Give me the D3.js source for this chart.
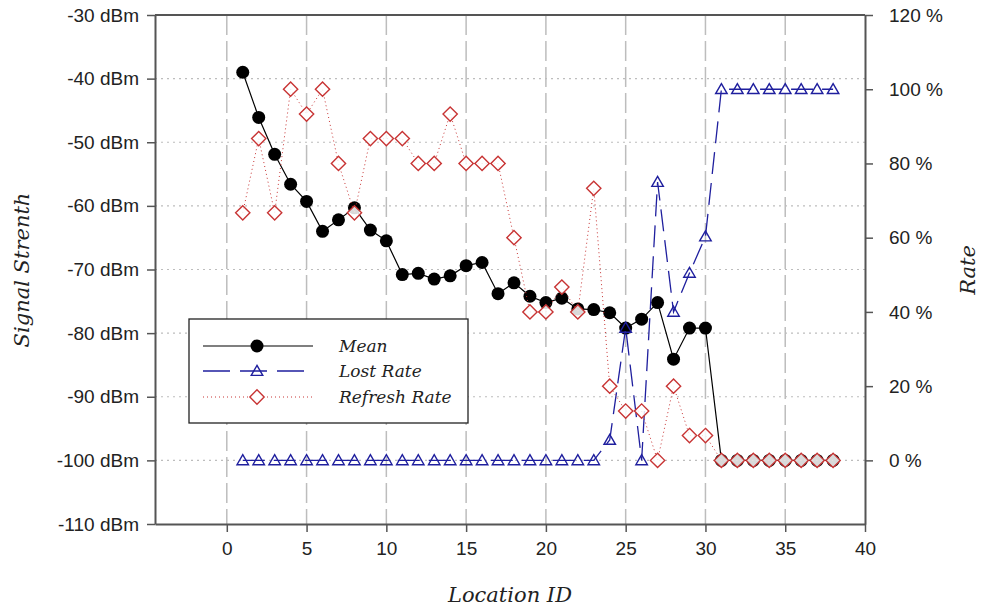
<!DOCTYPE html>
<html>
<head>
<meta charset="utf-8">
<script src="https://cdn.jsdelivr.net/npm/d3@7"></script>
<style>
  body { margin: 0; background: #fff; }
  .tick text { font-family: "Liberation Sans", Arial, sans-serif; font-size: 19px; fill: #222; }
  .ttl { font-family: "DejaVu Serif", serif; font-style: italic; fill: #222; }
</style>
</head>
<body>
<svg width="984" height="611"></svg>
<script>
// location ids
const ids = d3.range(1, 39)

// mean signal strength, dBm
const meanDbm = [-39.0, -46.1, -51.9, -56.6, -59.3, -64.0, -62.2, -60.3, -63.8, -65.5,
  -70.8, -70.6, -71.5, -71.0, -69.4, -68.9, -73.8, -72.1, -74.2, -75.2,
  -74.5, -76.2, -76.3, -76.8, -79.2, -77.8, -75.2, -84.1, -79.2, -79.2,
  -100, -100, -100, -100, -100, -100, -100, -100]

// lost rate, %
const lostRate = [0, 0, 0, 0, 0, 0, 0, 0, 0, 0,
  0, 0, 0, 0, 0, 0, 0, 0, 0, 0,
  0, 0, 0, 5.5, 35.7, 0, 75, 40, 50.5, 60.3,
  100, 100, 100, 100, 100, 100, 100, 100]

// refresh rate, %
const refreshRate = [66.7, 86.7, 66.7, 100, 93.3, 100, 80, 66.7, 86.7, 86.7,
  86.7, 80, 80, 93.3, 80, 80, 80, 60, 40, 40,
  46.7, 40, 73.3, 20, 13.3, 13.3, 0, 20, 6.7, 6.7,
  0, 0, 0, 0, 0, 0, 0, 0]

const xTicks = [0, 5, 10, 15, 20, 25, 30, 35, 40]
const yTicks = [-110, -100, -90, -80, -70, -60, -50, -40, -30]
const rateTicks = [0, 20, 40, 60, 80, 100, 120]

const svg = d3.select('svg')
const pLeft = 155, pRight = 865, pTop = 15, pBottom = 524

const x = d3.scaleLinear().domain([-4.5, 40]).range([pLeft, pRight])
const y = d3.scaleLinear().domain([-110, -30]).range([pBottom, pTop])
// 0 % sits on -100 dBm, 120 % on -30 dBm
const y2 = d3.scaleLinear().domain([-120 / 7, 120]).range([pBottom, pTop])

const blue = '#1f1f9e', red = '#c83434', grid = '#bdbdbd'

// grid
svg.append('g').selectAll('line')
  .data(xTicks.filter(d => d < 40))
  .enter().append('line')
  .attr('x1', d => x(d)).attr('x2', d => x(d))
  .attr('y1', pTop).attr('y2', pBottom)
  .attr('stroke', grid).attr('stroke-width', 1.5)
  .attr('stroke-dasharray', '20,6')

svg.append('g').selectAll('line')
  .data(yTicks.filter(d => d > -110 && d < -30))
  .enter().append('line')
  .attr('x1', pLeft).attr('x2', pRight)
  .attr('y1', d => y(d)).attr('y2', d => y(d))
  .attr('stroke', grid).attr('stroke-width', 1.2)
  .attr('stroke-dasharray', '2,4')

// axes
const styleAxis = g => {
  g.select('.domain').attr('stroke', '#555').attr('stroke-width', 2)
  g.selectAll('.tick line').attr('stroke', '#555').attr('stroke-width', 1.5)
}

svg.append('g')
  .attr('transform', `translate(${pLeft},0)`)
  .call(d3.axisLeft(y).tickValues(yTicks).tickSize(8).tickSizeOuter(0).tickPadding(8)
    .tickFormat(d => d + ' dBm'))
  .call(styleAxis)

svg.append('g')
  .attr('transform', `translate(${pRight},0)`)
  .call(d3.axisRight(y2).tickValues(rateTicks).tickSize(8).tickSizeOuter(0).tickPadding(16)
    .tickFormat(d => d + ' %'))
  .call(styleAxis)

svg.append('g')
  .attr('transform', `translate(0,${pBottom})`)
  .call(d3.axisBottom(x).tickValues(xTicks).tickSize(8).tickSizeOuter(0).tickPadding(10))
  .call(styleAxis)

svg.append('line')
  .attr('x1', pLeft).attr('x2', pRight).attr('y1', pTop).attr('y2', pTop)
  .attr('stroke', '#555').attr('stroke-width', 2)

// axis titles
svg.append('text').attr('class', 'ttl')
  .attr('x', 510).attr('y', 602).attr('text-anchor', 'middle')
  .style('font-size', '21px').text('Location ID')

svg.append('text').attr('class', 'ttl')
  .attr('transform', 'translate(29,270) rotate(-90)').attr('text-anchor', 'middle')
  .style('font-size', '21px').text('Signal Strenth')

svg.append('text').attr('class', 'ttl')
  .attr('transform', 'translate(975,270) rotate(-90)').attr('text-anchor', 'middle')
  .style('font-size', '21px').text('Rate')

// series
const diamond = d3.symbol().type(d3.symbolDiamond2).size(130)
const triangle = d3.symbol().type(d3.symbolTriangle2).size(95)

// mean
svg.append('path')
  .datum(ids)
  .attr('fill', 'none').attr('stroke', '#000').attr('stroke-width', 1.2)
  .attr('d', d3.line().x(d => x(d)).y((d, i) => y(meanDbm[i])))

svg.append('g').selectAll('circle')
  .data(ids)
  .enter().append('circle')
  .attr('cx', d => x(d)).attr('cy', (d, i) => y(meanDbm[i]))
  .attr('r', 6.5).attr('fill', '#000')

// lost rate
svg.append('path')
  .datum(ids)
  .attr('fill', 'none').attr('stroke', blue).attr('stroke-width', 1.3)
  .attr('stroke-dasharray', '22,9')
  .attr('d', d3.line().x(d => x(d)).y((d, i) => y2(lostRate[i])))

svg.append('g').selectAll('path')
  .data(ids)
  .enter().append('path')
  .attr('transform', (d, i) => `translate(${x(d)},${y2(lostRate[i]) + 1})`)
  .attr('d', triangle)
  .attr('fill', 'none').attr('stroke', blue).attr('stroke-width', 1.4)

// refresh rate
svg.append('path')
  .datum(ids)
  .attr('fill', 'none').attr('stroke', red).attr('stroke-width', 1)
  .attr('stroke-dasharray', '1,3')
  .attr('d', d3.line().x(d => x(d)).y((d, i) => y2(refreshRate[i])))

svg.append('g').selectAll('path')
  .data(ids)
  .enter().append('path')
  .attr('transform', (d, i) => `translate(${x(d)},${y2(refreshRate[i])})`)
  .attr('d', diamond)
  .attr('fill', '#fff').attr('fill-opacity', 0.85).attr('stroke', red).attr('stroke-width', 1.4)

// legend
const lg = svg.append('g').attr('transform', 'translate(189,319)')
lg.append('rect').attr('width', 279).attr('height', 104)
  .attr('fill', '#fff').attr('stroke', '#222').attr('stroke-width', 1.3)

const legendItems = [
  { name: 'Mean', y: 27 },
  { name: 'Lost Rate', y: 52 },
  { name: 'Refresh Rate', y: 78 }
]

lg.append('line').attr('x1', 14).attr('x2', 124).attr('y1', 27).attr('y2', 27)
  .attr('stroke', '#000').attr('stroke-width', 1.2)
lg.append('circle').attr('cx', 68).attr('cy', 27).attr('r', 6.5).attr('fill', '#000')

lg.append('line').attr('x1', 14).attr('x2', 124).attr('y1', 52).attr('y2', 52)
  .attr('stroke', blue).attr('stroke-width', 1.3).attr('stroke-dasharray', '27,10')
lg.append('path').attr('transform', 'translate(68,53)').attr('d', triangle)
  .attr('fill', 'none').attr('stroke', blue).attr('stroke-width', 1.4)

lg.append('line').attr('x1', 14).attr('x2', 124).attr('y1', 78).attr('y2', 78)
  .attr('stroke', red).attr('stroke-width', 1).attr('stroke-dasharray', '1,3')
lg.append('path').attr('transform', 'translate(68,78)').attr('d', diamond)
  .attr('fill', '#fff').attr('stroke', red).attr('stroke-width', 1.4)

lg.selectAll('text.leg')
  .data(legendItems)
  .enter().append('text')
  .attr('class', 'ttl leg')
  .attr('x', 150).attr('y', d => d.y + 6)
  .style('font-size', '17px')
  .text(d => d.name)
</script>
</body>
</html>
